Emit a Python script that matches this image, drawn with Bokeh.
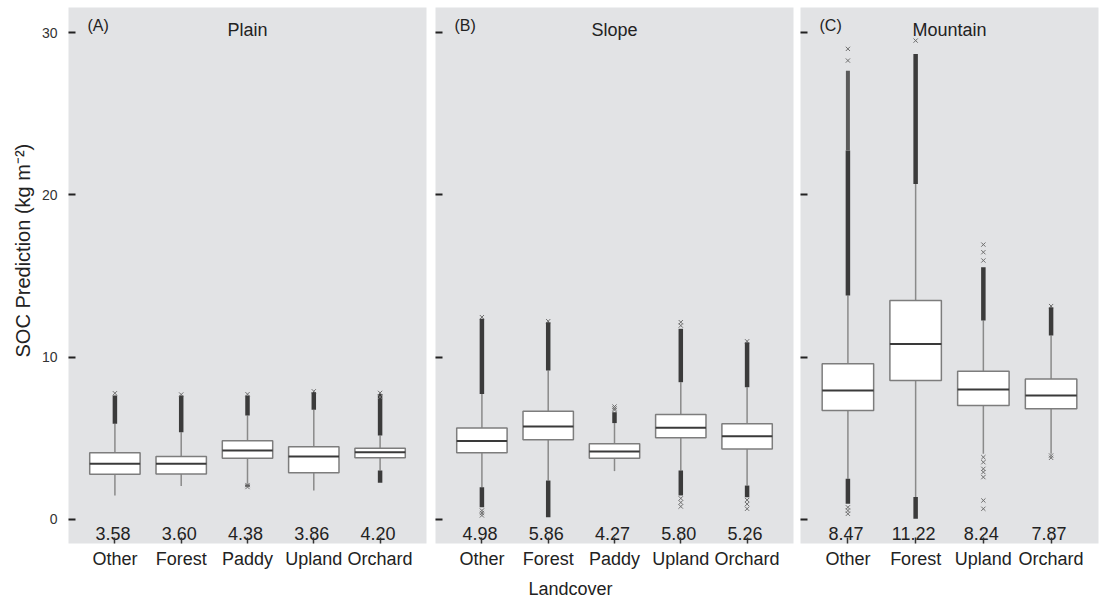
from bokeh.plotting import figure
from bokeh.layouts import row
from bokeh.models import (FactorRange, FixedTicker, Range1d, Label, Title,
                          CustomJSTickFormatter, ColumnDataSource)
from bokeh.embed import file_html
from bokeh.resources import INLINE
from bokeh.core.properties import value

# ---------------- data ----------------
y_ticks = [0, 10, 20, 30]

# Panel A: Plain
plain_cats = ["Other", "Forest", "Paddy", "Upland", "Orchard"]
plain_q1 = [2.79, 2.81, 3.78, 2.88, 3.80]
plain_med = [3.43, 3.43, 4.25, 3.88, 4.15]
plain_q3 = [4.11, 3.88, 4.85, 4.48, 4.39]
plain_wlo = [1.48, 2.07, 2.20, 1.79, 3.02]
plain_whi = [5.90, 5.38, 6.41, 6.76, 5.18]
plain_mean = ["3.58", "3.60", "4.38", "3.86", "4.20"]
plain_band_cat = ["Other", "Forest", "Paddy", "Upland", "Orchard", "Orchard", "Paddy"]
plain_band_lo = [5.90, 5.38, 6.41, 6.76, 5.18, 2.26, 2.02]
plain_band_hi = [7.64, 7.64, 7.64, 7.85, 7.74, 3.02, 2.15]
plain_out_cat = ["Other", "Forest", "Paddy", "Upland", "Orchard", "Orchard", "Paddy", "Paddy"]
plain_out_y = [7.78, 7.70, 7.72, 7.90, 7.80, 7.55, 2.00, 2.12]

# Panel B: Slope
slope_cats = ["Other", "Forest", "Paddy", "Upland", "Orchard"]
slope_q1 = [4.11, 4.91, 3.78, 5.03, 4.35]
slope_med = [4.83, 5.73, 4.19, 5.65, 5.13]
slope_q3 = [5.63, 6.67, 4.66, 6.47, 5.90]
slope_wlo = [1.99, 2.40, 2.98, 3.02, 2.09]
slope_whi = [7.74, 9.18, 5.94, 8.46, 8.15]
slope_mean = ["4.98", "5.86", "4.27", "5.80", "5.26"]
slope_band_cat = ["Other", "Other", "Forest", "Forest", "Paddy", "Upland", "Upland", "Orchard", "Orchard"]
slope_band_lo = [7.74, 0.76, 9.18, 0.14, 5.94, 8.46, 1.48, 8.15, 1.37]
slope_band_hi = [12.37, 1.99, 12.16, 2.40, 6.61, 11.75, 3.02, 10.92, 2.09]
slope_out_cat = ["Other", "Other", "Other", "Other", "Forest", "Paddy", "Paddy", "Paddy",
                 "Upland", "Upland", "Upland", "Upland", "Upland",
                 "Orchard", "Orchard", "Orchard", "Orchard"]
slope_out_y = [12.47, 0.55, 0.40, 0.25, 12.22, 6.75, 6.85, 6.96,
               11.95, 12.16, 1.30, 1.05, 0.80,
               10.98, 1.20, 0.95, 0.66]

# Panel C: Mountain
mount_cats = ["Other", "Forest", "Upland", "Orchard"]
mount_q1 = [6.72, 8.56, 7.02, 6.82]
mount_med = [7.95, 10.82, 8.01, 7.64]
mount_q3 = [9.59, 13.49, 9.14, 8.65]
mount_wlo = [2.51, 1.38, 4.05, 4.05]
mount_whi = [13.80, 20.68, 12.26, 11.34]
mount_mean = ["8.47", "11.22", "8.24", "7.87"]
mount_band_cat = ["Other", "Other", "Forest", "Forest", "Upland", "Orchard"]
mount_band_lo = [13.80, 0.97, 20.68, 0.04, 12.26, 11.34]
mount_band_hi = [22.74, 2.51, 28.69, 1.38, 15.55, 13.08]
mount_light_cat = ["Other"]
mount_light_lo = [22.74]
mount_light_hi = [27.66]
mount_out_cat = ["Other", "Other", "Other", "Other", "Other", "Forest",
                 "Upland", "Upland", "Upland", "Upland", "Upland", "Upland", "Upland",
                 "Upland", "Upland", "Upland", "Orchard", "Orchard", "Orchard"]
mount_out_y = [28.28, 29.00, 0.75, 0.55, 0.35, 29.51,
               15.96, 16.47, 16.94, 3.84, 3.53, 3.12, 2.92, 2.61, 1.17, 0.66,
               3.94, 3.80, 13.15]

# ---------------- styling ----------------
FONT = "Liberation Sans"
BG = "#e2e3e5"
BOX_W = 0.76
Y_START, Y_END = -1.48, 31.55


def make_panel(cats, q1, med, q3, wlo, whi, means, band_cat, band_lo, band_hi,
               out_cat, out_y, name, tag, width, left, right, first,
               light=None):
    p = figure(x_range=FactorRange(*cats, range_padding=0.2,
                                   range_padding_units="absolute"),
               y_range=Range1d(Y_START, Y_END),
               width=width, height=606,
               min_border_left=left, min_border_right=right,
               min_border_top=7, min_border_bottom=63,
               output_backend="svg", toolbar_location=None)
    p.background_fill_color = BG
    p.border_fill_color = "white"
    p.outline_line_color = None
    p.grid.visible = False

    # whiskers
    p.segment(x0=cats, y0=q3, x1=cats, y1=whi, line_color="#8a8a8a", line_width=1.5)
    p.segment(x0=cats, y0=q1, x1=cats, y1=wlo, line_color="#8a8a8a", line_width=1.5)
    # dense outlier bands
    p.segment(x0=band_cat, y0=band_lo, x1=band_cat, y1=band_hi,
              line_color="#3b3b3b", line_width=4.5)
    if light is not None:
        lc, llo, lhi = light
        p.segment(x0=lc, y0=llo, x1=lc, y1=lhi, line_color="#5a5a5a", line_width=4)
    # sparse outliers
    p.scatter(x=out_cat, y=out_y, marker="x", size=6, line_color="#6e6e6e", line_width=1)
    # boxes
    p.vbar(x=cats, bottom=q1, top=q3, width=BOX_W, fill_color="white",
           line_color="#7d7d7d", line_width=1.5)
    med_src = ColumnDataSource(dict(
        x0=[(c, -BOX_W / 2) for c in cats], x1=[(c, BOX_W / 2) for c in cats], y=med))
    p.segment(x0="x0", y0="y", x1="x1", y1="y", source=med_src,
              line_color="#3a3a3a", line_width=2)
    # mean labels
    p.text(x=cats, y=[0] * len(cats), text=means, y_offset=14, x_offset=-2,
           text_align="center", text_baseline="middle",
           text_font=value(FONT), text_font_size="18px", text_color="#222222")

    # x axis
    xa = p.xaxis[0]
    xa.axis_line_color = None
    xa.major_tick_in = 6
    xa.major_tick_out = 0
    xa.major_tick_line_color = "#333333"
    xa.major_tick_line_width = 1.5
    xa.major_label_text_font = FONT
    xa.major_label_text_font_size = "18px"
    xa.major_label_text_color = "#222222"
    xa.major_label_standoff = 5
    xa.minor_tick_line_color = None

    # y axis
    ya = p.yaxis[0]
    ya.ticker = FixedTicker(ticks=y_ticks)
    ya.axis_line_color = None
    ya.major_tick_in = 7
    ya.major_tick_out = 0
    ya.major_tick_line_color = "#222222"
    ya.major_tick_line_width = 2
    ya.minor_tick_line_color = None
    if first:
        ya.major_label_text_font = FONT
        ya.major_label_text_font_size = "14px"
        ya.major_label_text_color = "#333333"
        ya.major_label_standoff = 11
    else:
        ya.formatter = CustomJSTickFormatter(code="return ''")
        ya.major_label_standoff = 0
        ya.major_label_text_font_size = "1px"

    fw = width - left - right
    p.add_layout(Label(x=fw / 2, y=514, x_units="screen", y_units="screen",
                       text=name, text_align="center", text_baseline="middle",
                       text_font=FONT, text_font_size="18px", text_color="#222222"))
    p.add_layout(Label(x=19, y=518, x_units="screen", y_units="screen",
                       text=tag, text_align="left", text_baseline="middle",
                       text_font=FONT, text_font_size="16px", text_color="#222222"))
    return p


pA = make_panel(plain_cats, plain_q1, plain_med, plain_q3, plain_wlo, plain_whi,
                plain_mean, plain_band_cat, plain_band_lo, plain_band_hi,
                plain_out_cat, plain_out_y, "Plain", "(A)", 430, 68, 4, True)
pB = make_panel(slope_cats, slope_q1, slope_med, slope_q3, slope_wlo, slope_whi,
                slope_mean, slope_band_cat, slope_band_lo, slope_band_hi,
                slope_out_cat, slope_out_y, "Slope", "(B)", 366, 5, 3, False)
pC = make_panel(mount_cats, mount_q1, mount_med, mount_q3, mount_wlo, mount_whi,
                mount_mean, mount_band_cat, mount_band_lo, mount_band_hi,
                mount_out_cat, mount_out_y, "Mountain", "(C)", 304, 4, 2, False,
                light=(mount_light_cat, mount_light_lo, mount_light_hi))

pA.add_layout(Title(text="SOC Prediction  (kg m\u207b\u00b2)", align="left", offset=186,
                    text_font=FONT, text_font_size="20px", text_font_style="normal",
                    text_color="#222222"), "left")
pB.add_layout(Title(text="Landcover", align="left", offset=93,
                    text_font=FONT, text_font_size="18px", text_font_style="normal",
                    text_color="#222222"), "below")

layout = row(pA, pB, pC)
open("out.html", "w").write(file_html(layout, INLINE))
